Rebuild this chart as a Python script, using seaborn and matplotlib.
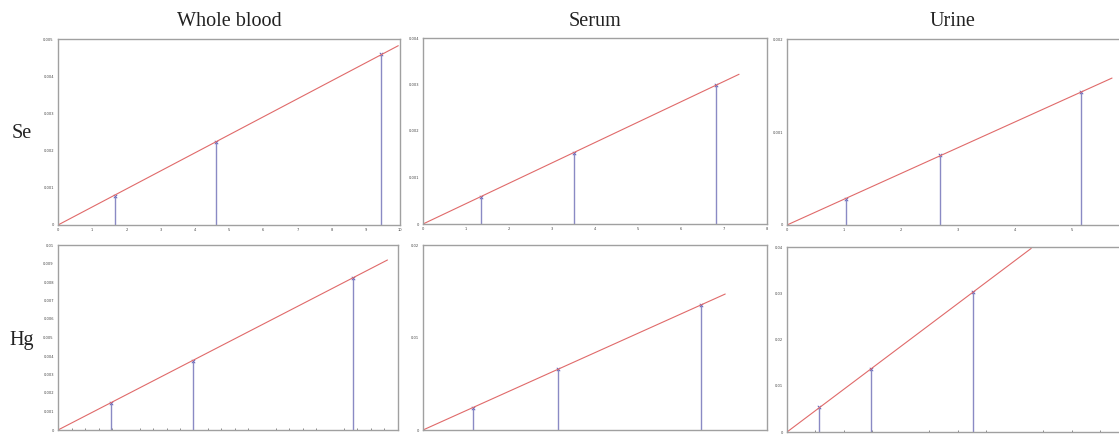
import numpy as np
import pandas as pd
import matplotlib
matplotlib.use("Agg")
import matplotlib.pyplot as plt
from matplotlib.ticker import MultipleLocator, FuncFormatter
import seaborn as sns

# ---- datos ----
columnas = ["Whole blood", "Serum", "Urine"]
filas = ["Se", "Hg"]

se_wb_x = [1.66, 4.61, 9.44]
se_wb_y = [0.00078, 0.00224, 0.0046]
se_wb_fin = [9.95, 0.00482]

se_serum_x = [1.345, 3.52, 6.81]
se_serum_y = [0.00059, 0.00153, 0.00298]
se_serum_fin = [7.35, 0.00322]

se_urine_x = [1.03, 2.69, 5.17]
se_urine_y = [0.00028, 0.00075, 0.00143]
se_urine_fin = [5.71, 0.00158]

hg_wb_x = [1.57, 3.97, 8.68]
hg_wb_y = [0.00144, 0.00375, 0.00823]
hg_wb_fin = [9.69, 0.00919]

hg_serum_x = [1.01, 2.74, 5.65]
hg_serum_y = [0.0024, 0.0066, 0.0135]
hg_serum_fin = [6.15, 0.0147]

hg_urine_x = [0.57, 1.48, 3.27]
hg_urine_y = [0.0053, 0.0137, 0.0303]
hg_urine_fin = [4.29, 0.0397]

W, H = 1119, 434

def caja(x0, x1, y0, y1):
    return [x0 / W, 1 - y1 / H, (x1 - x0) / W, (y1 - y0) / H]

def formato_corto(v, pos):
    if abs(v) < 1e-12:
        return "0"
    return "%g" % float("%.6g" % v)

paneles = [
    # x, y, fin de recta, caja px, xlim, ylim, paso y, paso x, menor x, etiquetas x
    (se_wb_x, se_wb_y, se_wb_fin, (58, 400, 39, 225), (0, 10), (0, 0.005), 0.001, 1, None, True),
    (se_serum_x, se_serum_y, se_serum_fin, (423, 767, 38, 224), (0, 8), (0, 0.004), 0.001, 1, None, True),
    (se_urine_x, se_urine_y, se_urine_fin, (787, 1120, 39, 225), (0, 5.85), (0, 0.002), 0.001, 1, None, True),
    (hg_wb_x, hg_wb_y, hg_wb_fin, (58, 398, 245, 430), (0, 10), (0, 0.01), 0.001, 2, 0.4, False),
    (hg_serum_x, hg_serum_y, hg_serum_fin, (423, 767, 245, 430), (0, 7), (0, 0.02), 0.01, 1, None, False),
    (hg_urine_x, hg_urine_y, hg_urine_fin, (787, 1120, 247, 432), (0, 5.85), (0, 0.04), 0.01, 2, 0.5, False),
]

sns.set_theme(style="white")
plt.rcParams['font.family'] = ['DejaVu Sans']

fig = plt.figure(figsize=(W / 100, H / 100), dpi=100)

for xs, ys, fin, px, xlim, ylim, ypaso, xpaso, xmenor, etiquetas_x in paneles:
    ax = fig.add_axes(caja(*px))
    df = pd.DataFrame({"conc": xs, "senal": ys})
    linea = pd.DataFrame({"conc": [0, fin[0]], "senal": [0, fin[1]]})

    ax.vlines(df["conc"], 0, df["senal"], color="#8a8ac4", lw=1.0)
    sns.lineplot(data=linea, x="conc", y="senal", ax=ax, color="#e06a6a", lw=0.8)
    sns.scatterplot(data=df, x="conc", y="senal", ax=ax, marker="x", s=6,
                    color="#5050b0", linewidth=0.6)

    ax.set_xlim(*xlim)
    ax.set_ylim(*ylim)
    ax.set_xlabel("")
    ax.set_ylabel("")
    ax.yaxis.set_major_locator(MultipleLocator(ypaso))
    ax.yaxis.set_major_formatter(FuncFormatter(formato_corto))
    ax.xaxis.set_major_locator(MultipleLocator(xpaso))
    ax.xaxis.set_major_formatter(FuncFormatter(formato_corto))
    if xmenor:
        ax.xaxis.set_minor_locator(MultipleLocator(xmenor))
    ax.tick_params(axis="x", which="both", direction="in", length=2, width=0.6,
                   colors="#777777", labelsize=2.6, pad=2, labelbottom=etiquetas_x)
    ax.tick_params(axis="x", which="minor", length=1.2, bottom=True)
    ax.tick_params(axis="y", direction="out", length=2, width=0.6,
                   colors="#777777", labelsize=2.6, pad=1)
    ax.tick_params(axis="both", labelcolor="#444444")
    for s in ax.spines.values():
        s.set_color("#a0a0a0")
        s.set_linewidth(1.0)

# ---- titulos ----
serif = ['Liberation Serif', 'DejaVu Serif']
fig.text(229 / W, 1 - 22 / H, columnas[0], ha="center", va="center", fontsize=14.5, family=serif, color="#222222")
fig.text(595 / W, 1 - 22 / H, columnas[1], ha="center", va="center", fontsize=14.5, family=serif, color="#222222")
fig.text(953 / W, 1 - 22 / H, columnas[2], ha="center", va="center", fontsize=14.5, family=serif, color="#222222")
fig.text(22 / W, 1 - 134 / H, filas[0], ha="center", va="center", fontsize=14.5, family=serif, color="#222222")
fig.text(22 / W, 1 - 340 / H, filas[1], ha="center", va="center", fontsize=14.5, family=serif, color="#222222")

fig.savefig("out.png", dpi=100)
